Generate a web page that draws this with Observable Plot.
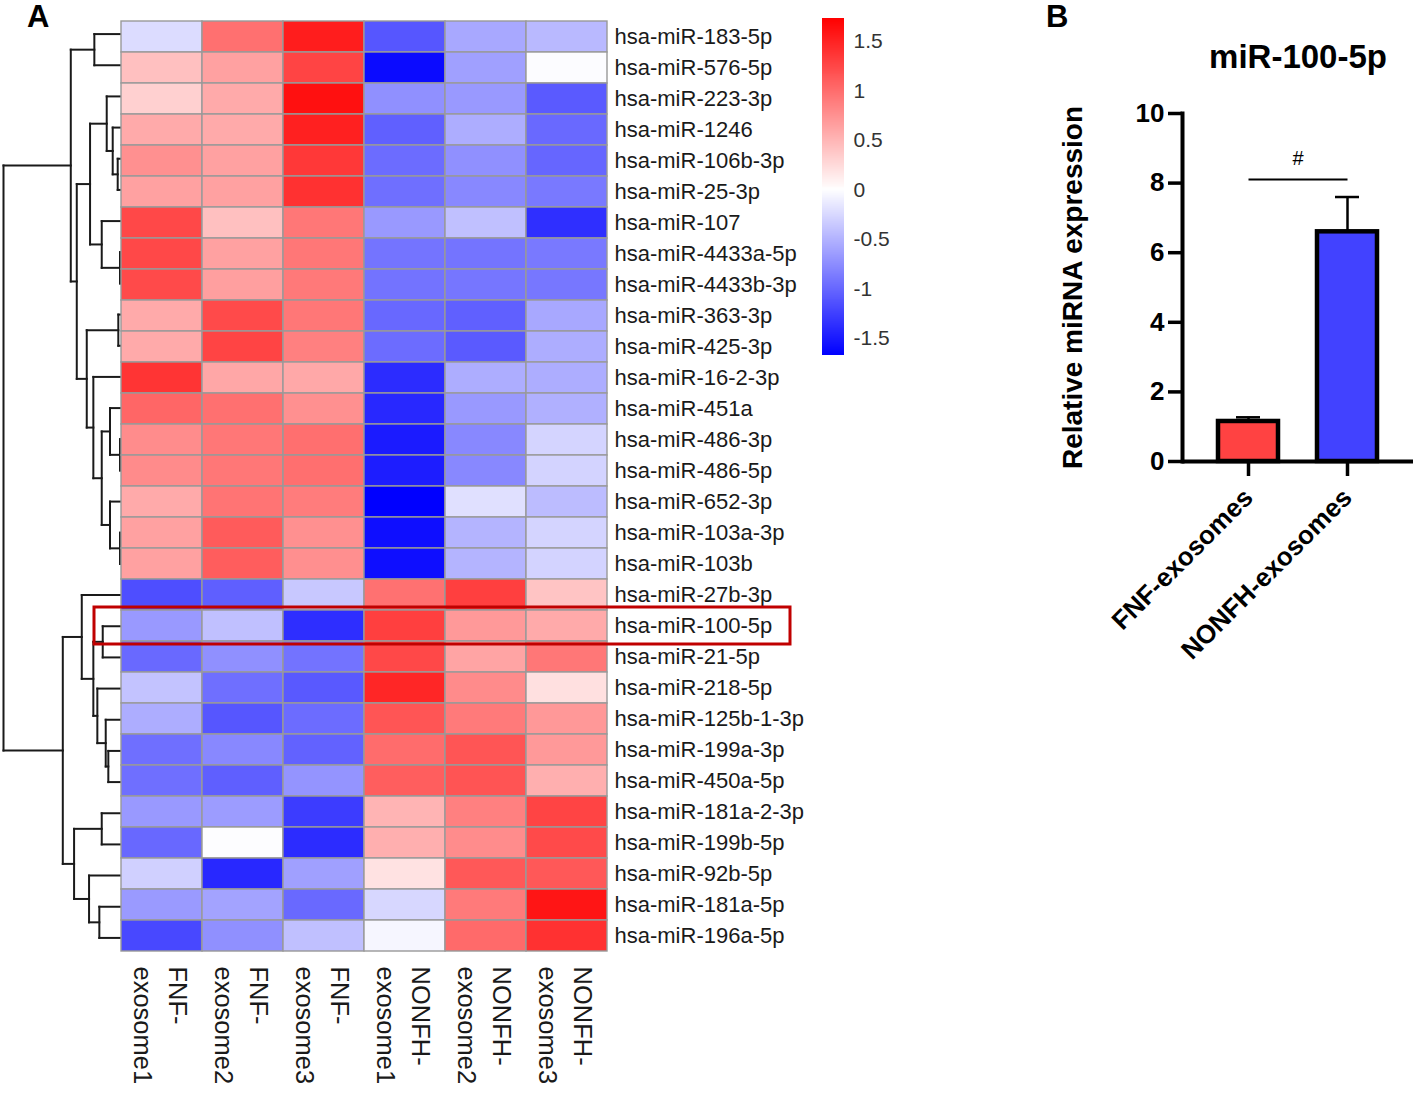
<!DOCTYPE html>
<html><head><meta charset="utf-8">
<script src="https://cdn.jsdelivr.net/npm/d3@7"></script>
<script src="https://cdn.jsdelivr.net/npm/@observablehq/plot@0.6"></script>
<style>
html,body{margin:0;padding:0;background:#fff;}
#root{position:relative;width:1418px;height:1093px;overflow:hidden;background:#fff;font-family:"Liberation Sans",Arial,Helvetica,sans-serif;}
.layer{position:absolute;left:0;top:0;}
.layer svg{display:block;max-width:none;}
.panel{position:absolute;font-weight:bold;font-size:31px;line-height:31px;color:#000;font-family:"Liberation Sans",Arial,sans-serif;}
</style></head>
<body><div id="root">
 <div id="dendro" class="layer"></div>
 <div id="heat" class="layer"></div>
 <div id="legend" class="layer" style="left:810px"></div>
 <div id="bar" class="layer" style="left:1040px"></div>
 <div class="panel" style="left:27px;top:1px">A</div>
 <div class="panel" style="left:1046px;top:1px">B</div>
</div>
<script>
// ---------------- DATA ----------------
const colNames = ["FNF-exosome1","FNF-exosome2","FNF-exosome3","NONFH-exosome1","NONFH-exosome2","NONFH-exosome3"];
const rowNames = ["hsa-miR-183-5p","hsa-miR-576-5p","hsa-miR-223-3p","hsa-miR-1246","hsa-miR-106b-3p","hsa-miR-25-3p","hsa-miR-107","hsa-miR-4433a-5p","hsa-miR-4433b-3p","hsa-miR-363-3p","hsa-miR-425-3p","hsa-miR-16-2-3p","hsa-miR-451a","hsa-miR-486-3p","hsa-miR-486-5p","hsa-miR-652-3p","hsa-miR-103a-3p","hsa-miR-103b","hsa-miR-27b-3p","hsa-miR-100-5p","hsa-miR-21-5p","hsa-miR-218-5p","hsa-miR-125b-1-3p","hsa-miR-199a-3p","hsa-miR-450a-5p","hsa-miR-181a-2-3p","hsa-miR-199b-5p","hsa-miR-92b-5p","hsa-miR-181a-5p","hsa-miR-196a-5p"];
const fnf1   = [-0.23,0.43,0.32,0.58,0.75,0.64,1.24,1.24,1.23,0.58,0.58,1.38,1.04,0.78,0.79,0.58,0.64,0.64,-1.16,-0.67,-0.98,-0.39,-0.54,-0.94,-0.94,-0.67,-0.99,-0.31,-0.66,-1.20];
const fnf2   = [0.97,0.64,0.58,0.58,0.64,0.64,0.43,0.64,0.65,1.23,1.27,0.60,0.97,0.92,0.92,0.94,1.11,1.10,-1.05,-0.41,-0.73,-0.94,-1.11,-0.78,-1.05,-0.65,-0.01,-1.41,-0.60,-0.73];
const fnf3   = [1.53,1.27,1.62,1.51,1.35,1.40,0.92,0.92,0.91,0.92,0.86,0.59,0.75,0.98,0.98,0.89,0.75,0.76,-0.36,-1.37,-0.92,-1.09,-0.96,-1.03,-0.70,-1.28,-1.38,-0.62,-0.98,-0.41];
const nonfh1 = [-1.11,-1.60,-0.73,-1.04,-0.96,-0.94,-0.67,-0.91,-0.92,-0.99,-0.96,-1.38,-1.41,-1.49,-1.48,-1.67,-1.58,-1.58,0.96,1.30,1.24,1.47,1.15,1.00,1.09,0.51,0.54,0.20,-0.26,-0.06];
const nonfh2 = [-0.57,-0.62,-0.67,-0.54,-0.73,-0.78,-0.41,-0.91,-0.90,-1.04,-1.08,-0.54,-0.67,-0.78,-0.78,-0.20,-0.49,-0.49,1.30,0.69,0.62,0.79,0.90,1.15,1.16,0.86,0.78,1.13,0.90,1.01];
const nonfh3 = [-0.46,-0.02,-1.08,-0.98,-1.00,-0.88,-1.36,-0.88,-0.89,-0.57,-0.54,-0.54,-0.52,-0.28,-0.29,-0.44,-0.28,-0.29,0.40,0.58,0.92,0.21,0.70,0.69,0.54,1.27,1.23,1.13,1.59,1.40];

// hierarchical clustering merges (hclust style: negative = leaf row, positive = earlier merge step)
const mergeLeft   = [-8,-14,-17,-5,-10,-4,-13,-16,-3,-7,7,-12,-1,9,5,14,13,-24,-23,-20,-22,20,-19,-26,-29,-28,24,23,17];
const mergeRight  = [-9,-15,-18,-6,-11,4,2,3,6,1,8,11,-2,10,12,15,16,-25,18,-21,19,21,22,-27,-30,25,26,27,28];
const mergeHeight = [0.05,0.05,0.05,0.28,0.22,0.78,1.05,1.05,1.38,1.88,1.88,2.72,2.62,3.05,3.38,4.38,4.98,1.22,1.48,1.78,2.32,2.72,3.88,1.88,2.12,3.15,4.65,5.78,11.72];

const colorDomain = [-1.67, 0, 1.73];
const colorRange = ["#0000ff", "#ffffff", "#ff0000"];
const legendTicks = [-1.5, -1, -0.5, 0, 0.5, 1, 1.5];
const highlightRow = "hsa-miR-100-5p";

const barGroups = ["FNF-exosomes", "NONFH-exosomes"];
const barMeans = [1.15, 6.6];
const barSDs = [0.12, 1.0];
const barColors = ["#ff4242", "#4242ff"];
const yTicksB = [0, 2, 4, 6, 8, 10];
const sigY = 8.1;
const sigLabel = "#";

// ---------------- BUILD ----------------
const FONT = '"Liberation Sans", Arial, Helvetica, sans-serif';
const series = [fnf1, fnf2, fnf3, nonfh1, nonfh2, nonfh3];
const cells = colNames.flatMap((c, j) => rowNames.map((r, i) => ({col: c, row: r, value: series[j][i]})));

// dendrogram segments from the merge table
const nodes = [];
const segs = [];
const ref = id => id < 0 ? {y: -id - 1, h: 0} : nodes[id - 1];
for (let k = 0; k < mergeLeft.length; k++) {
  const a = ref(mergeLeft[k]), b = ref(mergeRight[k]), h = mergeHeight[k];
  nodes.push({y: (a.y + b.y) / 2, h});
  segs.push({x1: h, y1: a.y, x2: h, y2: b.y});
  segs.push({x1: h, y1: a.y, x2: a.h, y2: a.y});
  segs.push({x1: h, y1: b.y, x2: b.h, y2: b.y});
}

const TOP = 18, BOTTOM = 140, H = 1093;

const dendro = Plot.plot({
  width: 121, height: H,
  marginLeft: 3, marginRight: 1, marginTop: TOP, marginBottom: BOTTOM,
  style: {background: "transparent", overflow: "visible"},
  x: {domain: [0, d3.max(mergeHeight)], reverse: true, axis: null},
  y: {domain: [-0.5, rowNames.length - 0.5], reverse: true, axis: null},
  marks: [
    Plot.link(segs, {x1: "x1", y1: "y1", x2: "x2", y2: "y2", stroke: "#1a1a1a", strokeWidth: 2, strokeLinecap: "square"})
  ]
});
document.getElementById("dendro").appendChild(dendro);

const heat = Plot.plot({
  width: 820, height: H,
  marginLeft: 121, marginRight: 213, marginTop: TOP, marginBottom: BOTTOM,
  style: {background: "transparent", overflow: "visible", fontFamily: FONT},
  x: {type: "band", domain: colNames, padding: 0, axis: null},
  y: {type: "band", domain: rowNames, padding: 0, axis: null},
  color: {type: "linear", domain: colorDomain, range: colorRange, interpolate: "rgb"},
  marks: [
    Plot.cell(cells, {x: "col", y: "row", fill: "value", stroke: "#999999", strokeWidth: 1.4, inset: 0}),
    Plot.text(rowNames, {y: d => d, frameAnchor: "right", textAnchor: "start", dx: 7, fontSize: 22, fill: "#1a1a1a"}),
    Plot.text(colNames, {x: d => d, frameAnchor: "bottom", rotate: 90, textAnchor: "start", lineAnchor: "middle",
      lineHeight: 1.36, dy: 13, dx: 0.5, fontSize: 25.5, fill: "#1a1a1a", text: d => d.replace("-", "-\n")}),
    Plot.cell([highlightRow], {y: d => d, fill: "none", stroke: "#c00000", strokeWidth: 3,
      insetLeft: -27, insetRight: -183, insetTop: -3, insetBottom: -3})
  ]
});
document.getElementById("heat").appendChild(heat);

// color legend
const NS = 340;
const lo = colorDomain[0], hi = colorDomain[2];
const slices = d3.range(NS).map(i => ({y1: lo + (hi - lo) * i / NS, y2: lo + (hi - lo) * (i + 1) / NS}));
const legend = Plot.plot({
  width: 100, height: 370,
  marginLeft: 12, marginRight: 0, marginTop: TOP, marginBottom: 15,
  style: {background: "transparent", overflow: "visible", fontFamily: FONT},
  x: {domain: [0, 4], axis: null},
  y: {domain: [lo, hi], axis: null},
  color: {type: "linear", domain: colorDomain, range: colorRange, interpolate: "rgb"},
  marks: [
    Plot.rect(slices, {x1: 0, x2: 1, y1: "y1", y2: "y2", fill: d => (d.y1 + d.y2) / 2, shapeRendering: "crispEdges"}),
    Plot.text(legendTicks, {x: 1, y: d => d, dx: 9, textAnchor: "start", fontSize: 21, fill: "#333", text: d => String(d)})
  ]
});
document.getElementById("legend").appendChild(legend);

// bar chart B
const bars = barGroups.map((g, i) => ({group: g, mean: barMeans[i], sd: barSDs[i], color: barColors[i]}));
const bar = Plot.plot({
  width: 378, height: 680,
  marginLeft: 142, marginRight: 5, marginTop: 113, marginBottom: 219,
  style: {background: "transparent", overflow: "visible", fontFamily: FONT},
  x: {type: "band", domain: barGroups, paddingInner: 0.392, paddingOuter: 0.357},
  y: {domain: [0, 10]},
  color: {type: "identity"},
  marks: [
    Plot.barY(bars, {x: "group", y: "mean", fill: "color", stroke: "#000", strokeWidth: 4.5}),
    Plot.ruleX(bars, {x: "group", y1: "mean", y2: d => d.mean + d.sd, stroke: "#000", strokeWidth: 2.5}),
    Plot.tickY(bars, {x: "group", y: d => d.mean + d.sd, stroke: "#000", strokeWidth: 2.5, insetLeft: 18, insetRight: 18}),
    Plot.link([sigY], {x1: () => barGroups[0], x2: () => barGroups[1], y1: d => d, y2: d => d, stroke: "#000", strokeWidth: 2}),
    Plot.text([sigY], {y: d => d + 0.6, text: () => sigLabel, fontSize: 20, fill: "#000"}),
    Plot.ruleY([0], {stroke: "#000", strokeWidth: 4}),
    Plot.frame({anchor: "left", stroke: "#000", strokeWidth: 4}),
    Plot.axisY(yTicksB, {tickSize: 14, tickPadding: 4, strokeWidth: 3.5, fontSize: 26, fontWeight: "bold", label: null, color: "#000"}),
    Plot.axisX({tickSize: 15, tickPadding: 17, strokeWidth: 3.5, tickRotate: -45, fontSize: 26, fontWeight: "bold", label: null, color: "#000"}),
    Plot.text(["Relative miRNA expression"], {frameAnchor: "left", textAnchor: "middle", lineAnchor: "middle", rotate: -90, dx: -109, fontSize: 28, fontWeight: "bold", fill: "#000"}),
    Plot.text(["miR-100-5p"], {frameAnchor: "top", textAnchor: "middle", lineAnchor: "middle", dy: -55.6, fontSize: 33, fontWeight: "bold", fill: "#000"})
  ]
});
document.getElementById("bar").appendChild(bar);
</script>
</body></html>
